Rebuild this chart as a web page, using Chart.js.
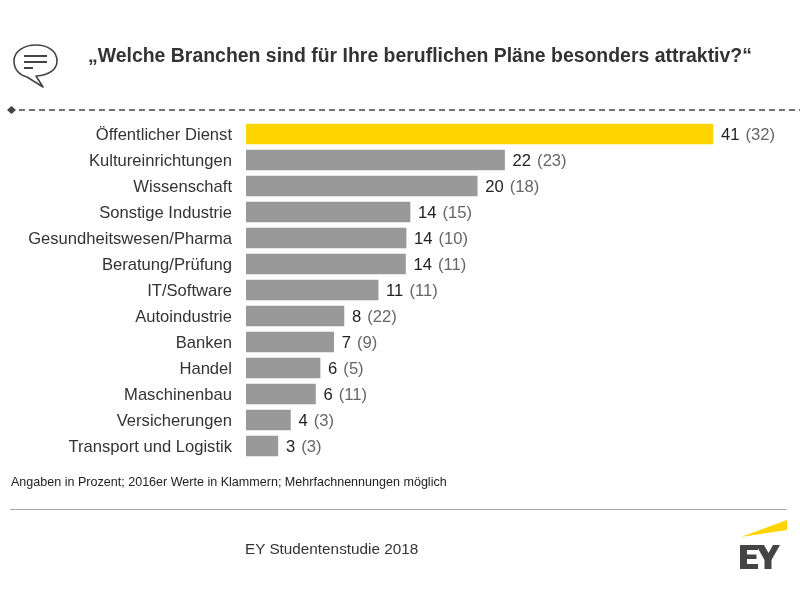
<!DOCTYPE html>
<html lang="de">
<head>
<meta charset="utf-8">
<title>EY Studentenstudie 2018</title>
<script src="https://cdn.jsdelivr.net/npm/chart.js@4"></script>
<style>
  html, body { margin: 0; padding: 0; background: #fff; }
  body { width: 800px; height: 600px; position: relative; overflow: hidden; font-family: "Liberation Sans", Arial, sans-serif; color: #333; }
  #mainChart { position: absolute; left: 0; top: 0; }
  .txt { position: absolute; white-space: nowrap; }
  #heading { left: 88px; top: 44px; font-size: 19.45px; font-weight: bold; color: #333; }
  #note { left: 11px; top: 475px; font-size: 12.55px; color: #222; }
  #source { left: 245px; top: 540px; font-size: 15.3px; color: #333; }
  svg.deco { position: absolute; left: 0; top: 0; }
</style>
</head>
<body>
<canvas id="mainChart" width="800" height="600"></canvas>

<svg class="deco" width="800" height="600" viewBox="0 0 800 600">
  <!-- speech bubble -->
  <path d="M36 45 C49 45 57 52 57 61 C57 69 50 75 36 76 L43 87 L27 77 C19 75 14 69 14 61 C14 52 23 45 36 45 Z" fill="none" stroke="#444" stroke-width="1.6" stroke-linejoin="round"/>
  <path d="M24 56 H47 M24 62 H47 M24 68 H33" stroke="#444" stroke-width="1.8"/>
  <!-- dashed rule -->
  <path d="M7 110 L11.5 106 L16 110 L11.5 114 Z" fill="#444"/>
  <line x1="19" y1="110" x2="800" y2="110" stroke="#444" stroke-width="1.3" stroke-dasharray="6 4"/>
  <!-- footer rule and logo -->
  <line x1="10" y1="509.5" x2="787" y2="509.5" stroke="#aaa" stroke-width="1.2"/>
  <path d="M741 537 L787 520 V530 Z" fill="#ffd400"/>
  <path d="M740 545 H758 V550 H747 V554.5 H756.5 V559 H747 V564 H758 V569 H740 Z" fill="#444"/>
  <path d="M756 545 H764 L768.5 553 L773 545 H780 L771.5 560 V569 H764.5 V560 Z" fill="#444"/>
</svg>

<div class="txt" id="heading">„Welche Branchen sind für Ihre beruflichen Pläne besonders attraktiv?“</div>
<div class="txt" id="note">Angaben in Prozent; 2016er Werte in Klammern; Mehrfachnennungen möglich</div>
<div class="txt" id="source">EY Studentenstudie 2018</div>

<script>
const categories = ['Öffentlicher Dienst', 'Kultureinrichtungen', 'Wissenschaft', 'Sonstige Industrie',
  'Gesundheitswesen/Pharma', 'Beratung/Prüfung', 'IT/Software', 'Autoindustrie', 'Banken', 'Handel',
  'Maschinenbau', 'Versicherungen', 'Transport und Logistik'];

// bar lengths
const barLengths = [41, 22.7, 20.3, 14.4, 14.05, 14, 11.6, 8.6, 7.7, 6.5, 6.1, 3.9, 2.8];
// printed next to the bars
const values2018 = [41, 22, 20, 14, 14, 14, 11, 8, 7, 6, 6, 4, 3];
const values2016 = [32, 23, 18, 15, 10, 11, 11, 22, 9, 5, 11, 3, 3];

const barColors = categories.map((c, i) => i === 0 ? '#ffd500' : '#999999');

const valueLabels = {
  id: 'valueLabels',
  afterDatasetsDraw(chart) {
    const ctx = chart.ctx;
    const bars = chart.getDatasetMeta(0).data;
    ctx.save();
    ctx.font = '16.6px "Liberation Sans", Arial, sans-serif';
    ctx.textBaseline = 'middle';
    bars.forEach((bar, i) => {
      const main = String(values2018[i]);
      const x = bar.x + 8;
      const y = bar.y + 1;
      ctx.fillStyle = '#222';
      ctx.fillText(main, x, y);
      ctx.fillStyle = '#666';
      ctx.fillText('(' + values2016[i] + ')', x + ctx.measureText(main + ' ').width + 1.5, y);
    });
    ctx.restore();
  }
};

new Chart(document.getElementById('mainChart').getContext('2d'), {
  type: 'bar',
  data: {
    labels: categories,
    datasets: [{
      data: barLengths,
      backgroundColor: barColors,
      barThickness: 20
    }]
  },
  plugins: [valueLabels],
  options: {
    indexAxis: 'y',
    responsive: false,
    animation: false,
    layout: { padding: { top: 121, bottom: 141, left: 0, right: 18.7 } },
    plugins: {
      legend: { display: false },
      title: { display: false },
      tooltip: { enabled: false }
    },
    scales: {
      x: {
        display: false,
        min: 0,
        max: 47
      },
      y: {
        afterFit(scale) { scale.width = 246; },
        grid: { display: false, drawTicks: false },
        border: { display: false },
        ticks: {
          autoSkip: false,
          padding: 14,
          labelOffset: 1.5,
          color: '#333',
          font: { family: '"Liberation Sans", Arial, sans-serif', size: 16.6 }
        }
      }
    }
  }
});
</script>
</body>
</html>
